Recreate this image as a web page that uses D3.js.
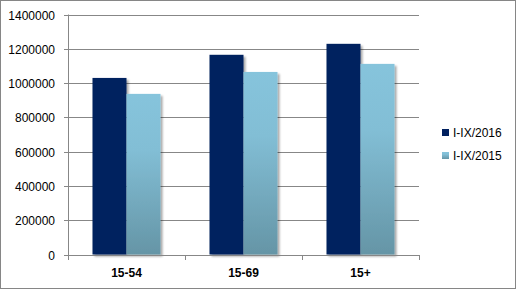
<!DOCTYPE html>
<html><head><meta charset="utf-8">
<script src="https://cdn.jsdelivr.net/npm/d3@7"></script>
<style>body{margin:0;background:#fff}svg{display:block}</style>
</head><body>
<svg id="c" width="516" height="289"></svg>
<script>
const categories = ["15-54", "15-69", "15+"];
const seriesNames = ["I-IX/2016", "I-IX/2015"];
const values2016 = [1030000, 1165000, 1229000];
const values2015 = [937000, 1065000, 1112000];
const yTicks = [0, 200000, 400000, 600000, 800000, 1000000, 1200000, 1400000];

const svg = d3.select("#c");
const W = 516, H = 289;
const m = {l: 68, r: 97, t: 14.5, b: 34.5};
const x0 = d3.scaleBand().domain(categories).range([m.l, W - m.r]).paddingInner(0).paddingOuter(0);
const x1 = d3.scaleBand().domain(seriesNames).range([0, x0.bandwidth()]).paddingOuter(0.72).paddingInner(0);
const y = d3.scaleLinear().domain([0, 1400000]).range([H - m.b, m.t]);

const defs = svg.append("defs");
const g = defs.append("linearGradient").attr("id", "lg").attr("x1", 0).attr("y1", 0).attr("x2", 0).attr("y2", 1);
g.append("stop").attr("offset", "0").attr("stop-color", "#86c4dc");
g.append("stop").attr("offset", "0.35").attr("stop-color", "#82bed5");
g.append("stop").attr("offset", "1").attr("stop-color", "#6595a6");
const f = defs.append("filter").attr("id", "sh").attr("x", "-20%").attr("y", "-20%").attr("width", "150%").attr("height", "150%");
f.append("feGaussianBlur").attr("in", "SourceAlpha").attr("stdDeviation", 1.2).attr("result", "b");
f.append("feOffset").attr("in", "b").attr("dx", 1.5).attr("dy", 1.5).attr("result", "o");
f.append("feComponentTransfer").attr("in", "o").attr("result", "o2").append("feFuncA").attr("type", "linear").attr("slope", 0.35);
const fm = f.append("feMerge");
fm.append("feMergeNode").attr("in", "o2");
fm.append("feMergeNode").attr("in", "SourceGraphic");

// border
svg.append("rect").attr("x", 0.5).attr("y", 0.5).attr("width", W - 1).attr("height", H - 1)
  .attr("fill", "#fff").attr("stroke", "#868686");

// gridlines
svg.append("g").selectAll("line").data(yTicks.slice(1)).join("line")
  .attr("x1", m.l - 4).attr("x2", W - m.r)
  .attr("y1", d => Math.round(y(d)) + 0.5).attr("y2", d => Math.round(y(d)) + 0.5)
  .attr("stroke", "#878787").attr("stroke-width", 1);

// y labels
svg.append("g").selectAll("text").data(yTicks).join("text")
  .attr("x", 55).attr("y", d => Math.round(y(d)) + 4.5)
  .attr("text-anchor", "end").attr("font-family", "Liberation Sans, Arial, sans-serif")
  .attr("font-size", 12).attr("fill", "#000").text(d => d);

// bars
const data = categories.map((c, i) => ({c, vals: [values2016[i], values2015[i]]}));
const gb = svg.append("g").selectAll("g").data(data).join("g")
  .attr("transform", d => `translate(${x0(d.c)},0)`);
gb.selectAll("rect").data(d => d.vals.map((v, j) => ({s: seriesNames[j], v}))).join("rect")
  .attr("x", d => x1(d.s)).attr("width", x1.bandwidth())
  .attr("y", d => y(d.v)).attr("height", d => y(0) - y(d.v))
  .attr("fill", d => d.s === seriesNames[0] ? "#00205f" : "url(#lg)")
  .attr("filter", "url(#sh)");

// axes lines
svg.append("line").attr("x1", m.l + 0.5).attr("x2", m.l + 0.5).attr("y1", m.t).attr("y2", y(0) + 5)
  .attr("stroke", "#878787");
svg.append("line").attr("x1", m.l - 4).attr("x2", W - m.r).attr("y1", Math.round(y(0)) + 0.5).attr("y2", Math.round(y(0)) + 0.5)
  .attr("stroke", "#878787");
const bounds = categories.map(c => x0(c)).concat([x0(categories[categories.length - 1]) + x0.bandwidth()]);
svg.append("g").selectAll("line").data(bounds).join("line")
  .attr("x1", d => Math.round(d) + 0.5).attr("x2", d => Math.round(d) + 0.5)
  .attr("y1", Math.round(y(0))).attr("y2", Math.round(y(0)) + 5)
  .attr("stroke", "#878787");

// x labels
svg.append("g").selectAll("text").data(categories).join("text")
  .attr("x", d => x0(d) + x0.bandwidth() / 2).attr("y", 277)
  .attr("text-anchor", "middle").attr("font-family", "Liberation Sans, Arial, sans-serif")
  .attr("font-size", 12).attr("font-weight", "bold").attr("fill", "#000").text(d => d);

// legend
const lg = svg.append("g").selectAll("g").data(seriesNames).join("g")
  .attr("transform", (d, i) => `translate(442,${129 + i * 23})`);
lg.append("rect").attr("width", 7).attr("height", 7)
  .attr("fill", (d, i) => i === 0 ? "#00205f" : "url(#lg)");
lg.append("text").attr("x", 11).attr("y", 7.5)
  .attr("font-family", "Liberation Sans, Arial, sans-serif").attr("font-size", 12).attr("fill", "#000")
  .text(d => d);
</script>
</body></html>
